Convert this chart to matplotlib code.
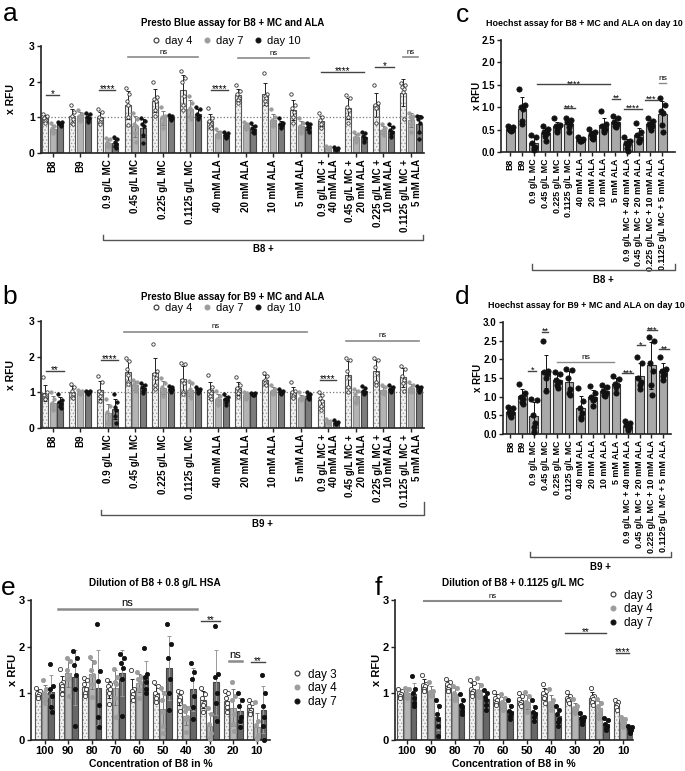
import numpy as np
import matplotlib.pyplot as plt
import matplotlib.transforms as mtransforms
from matplotlib.lines import Line2D

plt.rcParams['font.family'] = ['Liberation Sans', 'DejaVu Sans']
plt.rcParams['hatch.linewidth'] = 0.6

# ---------------- data ----------------
mc_ala_labels = ['B8', 'B9', '0.9 g/L MC', '0.45 g/L MC', '0.225 g/L MC', '0.1125 g/L MC',
                 '40 mM ALA', '20 mM ALA', '10 mM ALA', '5 mM ALA',
                 '0.9 g/L MC +\n40 mM ALA', '0.45 g/L MC +\n20 mM ALA',
                 '0.225 g/L MC +\n10 mM ALA', '0.1125 g/L MC +\n5 mM ALA']
hoechst_labels = [s.replace('\n', ' ') for s in mc_ala_labels]
dilution_labels = ['100', '90', '80', '70', '60', '50', '40', '30', '20', '10']

# panel a: Presto Blue, B8 + MC/ALA (replicates per group)
a_day4 = [[1.1, 1.05, 0.98, 0.93, 0.9, 0.85], [1.35, 1.15, 1.05, 0.95, 0.85, 0.8],
          [1.22, 1.15, 1.0, 0.95, 0.88, 0.8], [1.83, 1.65, 1.45, 1.35, 1.0, 0.78],
          [1.98, 1.58, 1.52, 1.45, 1.2, 1.05], [2.3, 2.1, 2.0, 1.6, 1.35, 1.2],
          [1.25, 0.98, 0.9, 0.82, 0.75, 0.7], [1.9, 1.75, 1.65, 1.55, 1.5, 1.4],
          [2.25, 1.65, 1.6, 1.55, 1.45, 1.38], [1.65, 1.35, 1.25, 1.15, 1.0, 0.85],
          [1.12, 1.0, 0.92, 0.85, 0.8, 0.7], [1.62, 1.55, 1.3, 1.2, 1.0, 0.85],
          [1.92, 1.4, 1.35, 1.3, 1.25, 0.85], [1.95, 1.9, 1.85, 1.8, 1.7, 0.95]]
a_day7 = [[0.85, 0.75, 0.7, 0.65, 0.6, 0.55], [1.2, 1.1, 1.05, 1.0, 0.95, 0.9],
          [0.42, 0.38, 0.3, 0.25, 0.22, 0.18], [1.12, 0.95, 0.8, 0.75, 0.55, 0.3],
          [1.3, 1.05, 1.0, 0.95, 0.85, 0.7], [1.6, 1.4, 1.25, 1.2, 1.05, 0.95],
          [0.68, 0.58, 0.52, 0.5, 0.47, 0.44], [0.88, 0.82, 0.78, 0.75, 0.72, 0.68],
          [1.22, 1.0, 0.92, 0.88, 0.82, 0.75], [0.98, 0.85, 0.75, 0.7, 0.65, 0.55],
          [0.2, 0.17, 0.15, 0.14, 0.13, 0.12], [0.58, 0.52, 0.45, 0.42, 0.38, 0.32],
          [0.82, 0.7, 0.65, 0.6, 0.55, 0.5], [1.12, 1.05, 1.0, 0.95, 0.8, 0.6]]
a_day10 = [[0.88, 0.87, 0.85, 0.82, 0.8, 0.75], [1.12, 1.08, 1.02, 0.98, 0.92, 0.88],
           [0.45, 0.38, 0.3, 0.25, 0.2, 0.15], [0.98, 0.9, 0.8, 0.75, 0.5, 0.28],
           [1.07, 1.03, 1.0, 0.98, 0.96, 0.93], [1.3, 1.22, 1.1, 1.05, 1.0, 0.95],
           [0.6, 0.55, 0.5, 0.48, 0.45, 0.42], [0.85, 0.75, 0.7, 0.65, 0.6, 0.55],
           [0.98, 0.85, 0.8, 0.78, 0.75, 0.7], [0.85, 0.8, 0.75, 0.72, 0.68, 0.6],
           [0.17, 0.14, 0.12, 0.11, 0.1, 0.09], [0.6, 0.55, 0.48, 0.42, 0.38, 0.3],
           [0.82, 0.72, 0.65, 0.58, 0.52, 0.45], [1.05, 1.0, 0.95, 0.85, 0.6, 0.4]]

# panel b: Presto Blue, B9 + MC/ALA
b_day4 = [[1.42, 1.0, 0.92, 0.88, 0.85, 0.8], [1.22, 1.15, 1.05, 0.95, 0.88, 0.85],
          [1.45, 1.28, 1.05, 0.98, 0.9, 0.75], [1.95, 1.88, 1.65, 1.5, 1.3, 1.22],
          [2.35, 1.6, 1.52, 1.4, 1.2, 1.1], [1.82, 1.8, 1.35, 1.25, 1.0, 0.95],
          [1.48, 1.15, 1.05, 0.98, 0.9, 0.8], [1.42, 1.2, 1.12, 1.05, 0.98, 0.88],
          [1.55, 1.45, 1.35, 1.3, 1.25, 1.2], [1.28, 1.05, 1.0, 0.95, 0.9, 0.85],
          [1.0, 0.92, 0.85, 0.75, 0.62, 0.5], [1.95, 1.9, 1.6, 1.4, 1.15, 1.0],
          [1.95, 1.9, 1.7, 1.55, 1.3, 1.2], [1.75, 1.65, 1.45, 1.35, 1.25, 1.05]]
b_day7 = [[1.02, 0.8, 0.7, 0.62, 0.55, 0.5], [1.06, 1.04, 1.02, 1.0, 0.98, 0.95],
          [0.82, 0.62, 0.45, 0.3, 0.2, 0.1], [1.35, 1.3, 1.22, 1.15, 1.1, 1.05],
          [1.4, 1.25, 1.15, 1.05, 1.0, 0.9], [1.32, 1.25, 1.1, 1.0, 0.95, 0.85],
          [1.05, 0.9, 0.82, 0.78, 0.72, 0.65], [1.02, 0.98, 0.92, 0.9, 0.85, 0.8],
          [1.2, 1.1, 1.05, 1.0, 0.98, 0.95], [1.0, 0.88, 0.85, 0.82, 0.8, 0.78],
          [0.25, 0.2, 0.18, 0.16, 0.14, 0.12], [1.1, 1.05, 0.95, 0.85, 0.75, 0.7],
          [1.2, 1.15, 1.05, 1.0, 0.98, 0.95], [1.3, 1.2, 1.12, 1.08, 1.05, 1.0]]
b_day10 = [[0.95, 0.78, 0.72, 0.68, 0.62, 0.55], [1.05, 1.03, 1.01, 1.0, 0.98, 0.96],
           [0.95, 0.72, 0.6, 0.5, 0.35, 0.15], [1.25, 1.2, 1.15, 1.1, 1.05, 0.98],
           [1.18, 1.15, 1.1, 1.08, 1.05, 1.02], [1.15, 1.1, 1.08, 1.05, 1.0, 0.98],
           [0.95, 0.88, 0.82, 0.78, 0.72, 0.65], [0.98, 0.97, 0.95, 0.94, 0.93, 0.92],
           [1.1, 1.05, 1.03, 1.0, 0.98, 0.95], [1.0, 0.95, 0.92, 0.88, 0.85, 0.82],
           [0.22, 0.18, 0.15, 0.13, 0.11, 0.1], [1.18, 1.12, 1.05, 1.02, 0.98, 0.95],
           [1.2, 1.15, 1.1, 1.08, 1.05, 1.02], [1.18, 1.15, 1.12, 1.1, 1.05, 1.0]]

# panels c and d: Hoechst on day 10
c_day10 = [[0.57, 0.55, 0.52, 0.5, 0.48, 0.46], [1.4, 1.05, 1.0, 0.95, 0.7, 0.62],
           [0.37, 0.33, 0.2, 0.12, 0.08, 0.05], [0.58, 0.52, 0.45, 0.42, 0.35, 0.25],
           [0.75, 0.6, 0.58, 0.55, 0.5, 0.45], [0.75, 0.72, 0.68, 0.62, 0.55, 0.45],
           [0.33, 0.3, 0.28, 0.26, 0.25, 0.24], [0.52, 0.45, 0.4, 0.35, 0.32, 0.3],
           [0.92, 0.62, 0.58, 0.52, 0.48, 0.45], [0.8, 0.75, 0.68, 0.62, 0.58, 0.55],
           [0.33, 0.25, 0.2, 0.15, 0.08, 0.03], [0.64, 0.45, 0.38, 0.3, 0.25, 0.22],
           [0.75, 0.7, 0.62, 0.58, 0.55, 0.5], [1.2, 1.05, 0.92, 0.88, 0.6, 0.45]]
d_day10 = [[0.72, 0.7, 0.6, 0.55, 0.5, 0.45], [1.35, 1.1, 1.0, 0.95, 0.85, 0.8],
           [0.95, 0.9, 0.5, 0.3, 0.2, 0.05], [2.5, 1.7, 1.65, 1.6, 1.5, 1.15],
           [1.65, 1.62, 1.45, 1.4, 1.3, 1.22], [1.75, 1.72, 1.5, 1.2, 1.1, 1.05],
           [1.22, 0.88, 0.7, 0.55, 0.45, 0.4], [1.28, 1.1, 1.0, 0.95, 0.9, 0.75],
           [1.32, 1.25, 1.15, 1.1, 1.05, 1.03], [1.55, 1.48, 1.35, 1.3, 1.25, 1.1],
           [0.35, 0.3, 0.25, 0.2, 0.15, 0.1], [2.05, 1.9, 1.5, 1.4, 1.3, 1.2],
           [2.6, 2.5, 1.9, 1.7, 1.3, 1.05], [2.05, 1.75, 1.7, 1.6, 1.55, 1.45]]

# panel e: dilution of B8 + 0.8 g/L HSA
e_day3 = [[1.12, 1.05, 1.0, 0.98, 0.95, 0.9], [1.52, 1.25, 1.2, 1.15, 1.1, 0.98],
          [1.32, 1.28, 1.2, 1.1, 1.0, 0.95], [1.28, 1.2, 1.15, 1.1, 1.0, 0.78],
          [1.5, 1.1, 1.05, 0.98, 0.92, 0.85], [1.25, 1.15, 1.0, 0.95, 0.9, 0.82],
          [1.05, 1.02, 0.95, 0.92, 0.85, 0.62], [1.12, 0.98, 0.9, 0.8, 0.75, 0.6],
          [1.05, 1.0, 0.9, 0.8, 0.7, 0.6], [0.85, 0.8, 0.72, 0.65, 0.6, 0.55]]
e_day4 = [[1.28, 1.1, 1.0, 0.95, 0.9, 0.8], [1.75, 1.7, 1.5, 1.4, 1.3, 0.95],
          [1.77, 1.68, 1.5, 1.4, 1.2, 0.93], [1.53, 1.35, 1.25, 1.2, 0.9, 0.5],
          [1.45, 1.35, 1.3, 1.25, 1.1, 0.9], [1.12, 1.0, 0.85, 0.6, 0.3, 0.15],
          [0.72, 0.68, 0.62, 0.5, 0.45, 0.18], [0.68, 0.55, 0.35, 0.15, 0.05, 0.02],
          [1.25, 0.95, 0.85, 0.55, 0.35, 0.2], [0.82, 0.4, 0.32, 0.1, 0.05, 0.02]]
e_day7 = [[1.62, 1.15, 1.1, 0.95, 0.7, 0.6], [1.9, 1.75, 1.6, 1.4, 1.1, 0.3],
          [2.48, 1.47, 1.27, 0.75, 0.5, 0.28], [1.85, 1.75, 1.65, 1.55, 1.3, 0.52],
          [1.98, 1.42, 1.35, 1.25, 1.1, 1.0], [2.48, 2.05, 1.75, 1.3, 1.0, 0.65],
          [1.65, 1.45, 1.3, 0.95, 0.7, 0.45], [2.45, 1.42, 1.35, 1.0, 0.8, 0.4],
          [1.0, 0.85, 0.72, 0.5, 0.4, 0.28], [1.4, 1.0, 0.72, 0.5, 0.3, 0.0]]

# panel f: dilution of B8 + 0.1125 g/L MC
f_day3 = [[1.1, 1.05, 1.0, 0.98, 0.95, 0.9], [1.4, 1.2, 1.18, 1.15, 1.1, 1.05],
          [1.3, 1.25, 1.2, 1.15, 1.1, 1.05], [1.28, 1.22, 1.1, 1.05, 1.0, 0.95],
          [1.02, 0.95, 0.9, 0.85, 0.8, 0.75], [1.0, 0.95, 0.88, 0.82, 0.78, 0.72],
          [1.2, 1.05, 1.0, 0.95, 0.9, 0.8], [1.02, 0.95, 0.9, 0.88, 0.85, 0.8],
          [1.12, 0.95, 0.92, 0.88, 0.82, 0.75], [0.85, 0.82, 0.78, 0.75, 0.7, 0.65]]
f_day4 = [[1.12, 1.1, 1.0, 0.95, 0.92, 0.9], [1.25, 1.05, 1.02, 1.0, 0.98, 0.95],
          [1.15, 1.12, 1.0, 0.95, 0.9, 0.85], [1.32, 1.18, 1.05, 1.0, 0.95, 0.92],
          [0.98, 0.9, 0.82, 0.78, 0.72, 0.65], [1.02, 0.95, 0.82, 0.75, 0.72, 0.6],
          [1.1, 0.85, 0.8, 0.78, 0.72, 0.65], [0.88, 0.72, 0.68, 0.65, 0.62, 0.58],
          [0.88, 0.8, 0.72, 0.65, 0.55, 0.48], [0.5, 0.45, 0.4, 0.35, 0.32, 0.28]]
f_day7 = [[1.38, 1.1, 1.0, 0.9, 0.8, 0.72], [0.85, 0.72, 0.55, 0.45, 0.3, 0.08],
          [0.98, 0.85, 0.75, 0.7, 0.62, 0.55], [1.08, 1.0, 0.92, 0.85, 0.75, 0.65],
          [0.85, 0.72, 0.62, 0.58, 0.52, 0.45], [0.85, 0.7, 0.6, 0.55, 0.5, 0.4],
          [0.72, 0.65, 0.55, 0.45, 0.38, 0.3], [0.58, 0.5, 0.48, 0.42, 0.4, 0.35],
          [0.48, 0.42, 0.35, 0.3, 0.25, 0.22], [0.3, 0.28, 0.25, 0.22, 0.18, 0.15]]

# significance bars: (x from, x to, y, text)
sig_a = [(-0.23, 0.25, 1.64, '*'), (1.70, 2.28, 1.78, '****'), (2.74, 5.28, 2.68, 'ns'),
         (5.75, 6.35, 1.78, '****'), (6.71, 9.29, 2.65, 'ns'), (9.74, 11.3, 2.28, '****'),
         (11.7, 12.4, 2.42, '*'), (12.7, 13.26, 2.68, 'ns')]
sig_b = [(-0.23, 0.41, 1.61, '**'), (1.74, 2.37, 1.9, '****'), (2.58, 9.23, 2.7, 'ns'),
         (9.69, 10.29, 1.34, '****'), (10.65, 13.3, 2.45, 'ns')]
sig_c = [(2.29, 8.57, 1.51, '****'), (4.57, 5.57, 0.98, '***'), (8.71, 9.43, 1.19, '**'),
         (9.77, 11.29, 0.96, '****'), (11.57, 12.57, 1.16, '***'), (12.77, 13.34, 1.54, 'ns')]
sig_d = [(1.5, 2.2, 1.70, '*'), (2.65, 3.22, 2.74, '**'), (3.93, 8.85, 1.92, 'ns'),
         (9.49, 10.48, 1.63, '***'), (10.77, 11.48, 2.38, '*'), (11.62, 12.48, 2.78, '***'),
         (12.68, 13.47, 2.27, '**')]
sig_e = [(0.55, 6.48, 2.8, 'ns'), (6.64, 7.44, 2.55, '**'), (7.8, 8.36, 1.69, 'ns'),
         (8.75, 9.35, 1.68, '**')]
sig_f = [(0.72, 6.4, 2.98, 'ns'), (6.6, 8.27, 2.3, '**'), (8.72, 9.25, 1.87, '****')]

# ---------------- styles ----------------
LIGHT = dict(face='#f2f2f2', hatch='.....', hatchcol='#a0a0a0', edge='#555555',
             err='#222222', pface='white', pedge='#333333')
MID = dict(face='#b4b4b4', hatch=None, edge='#8c8c8c', err='#777777',
           pface='#9c9c9c', pedge='#9c9c9c')
DARK = dict(face='#7c7c7c', hatch=None, edge='#444444', err='#111111',
            pface='#111111', pedge='#111111')
DARKER = dict(DARK, face='#676767', err='#999999')
HOECHST = dict(face='#a9a9a9', hatch=None, edge='#333333', err='#111111',
               pface='#111111', pedge='#111111')
JIT = np.array([-0.3, 0.3, -0.15, 0.15, 0.0, 0.05])

W, H = 685, 771
fig = plt.figure(figsize=(W / 100, H / 100), dpi=100)


def px_axes(left, top, right, bottom):
    return fig.add_axes([left / W, 1 - bottom / H, (right - left) / W, (bottom - top) / H])


def ftext(x, y, s, **kw):
    fig.text(x / W, 1 - y / H, s, **kw)


def draw_bars(ax, series, styles, offs, width, ms):
    for vals_list, st, off in zip(series, styles, offs):
        for g, pts in enumerate(vals_list):
            pts = np.asarray(pts)
            x = g + off
            m, sd = pts.mean(), pts.std(ddof=1)
            if st['hatch']:
                ax.bar(x, m, width, color=st['face'], edgecolor=st['hatchcol'],
                       hatch=st['hatch'], lw=0, zorder=2)
                ax.bar(x, m, width, fill=False, edgecolor=st['edge'], lw=0.8, zorder=2)
            else:
                ax.bar(x, m, width, color=st['face'], edgecolor=st['edge'], lw=0.8, zorder=2)
            ax.errorbar(x, m, yerr=sd, fmt='none', ecolor=st['err'], elinewidth=0.7,
                        capsize=1.5, capthick=0.7, zorder=3)
            ax.scatter(x + JIT[:len(pts)] * width, pts, s=ms, facecolor=st['pface'],
                       edgecolor=st['pedge'], linewidths=0.6, zorder=4, clip_on=False)


def setup(ax, xlim, yticks, ytl, xlabels, xfs, yfs, ylab_x, rot=90, multi='right'):
    ax.set_xlim(*xlim)
    ax.set_ylim(yticks[0], yticks[-1])
    for sp in ['top', 'right']:
        ax.spines[sp].set_visible(False)
    for sp in ['left', 'bottom']:
        ax.spines[sp].set_linewidth(1.2)
        ax.spines[sp].set_color('#222222')
    ax.set_yticks(yticks, ytl, fontsize=yfs, fontweight='bold')
    ax.set_xticks(range(len(xlabels)), xlabels, fontsize=xfs, fontweight='bold',
                  rotation=rot, multialignment=multi)
    ax.tick_params(axis='both', width=1.0, length=3, pad=1.5, color='#222222')
    ax.set_ylabel('x RFU', fontsize=yfs, fontweight='bold')
    ax.yaxis.set_label_coords(ylab_x, 0.5)


def significance(ax, sigs, fs_star=7, fs_ns=5.5, ns_lw=1.0):
    for x0, x1, y, txt in sigs:
        ns = txt == 'ns'
        ax.plot([x0, x1], [y, y], color='#8a8a8a' if ns else '#444444',
                lw=ns_lw if ns else 1.0, clip_on=False, zorder=5)
        ax.annotate(txt, ((x0 + x1) / 2, y), xytext=(0, 1 if ns else -3),
                    textcoords='offset points', ha='center', va='bottom',
                    fontsize=fs_ns if ns else fs_star, annotation_clip=False)


def bracket(ax, x0, x1, y, dy, text):
    tr = mtransforms.blended_transform_factory(ax.transData, ax.transAxes)
    ax.plot([x0, x0, x1, x1], [y + dy[0], y, y, y + dy[1]], transform=tr,
            color='#555555', lw=1.0, clip_on=False)
    ax.text((x0 + x1) / 2, y - 0.04, text, transform=tr, ha='center', va='top',
            fontsize=7, fontweight='bold')


def day_legend(labels, colors):
    handles = []
    for lab, (fc, ec) in zip(labels, colors):
        handles.append(Line2D([], [], ls='none', marker='o', ms=3.5, mfc=fc, mec=ec,
                              mew=0.8, label=lab))
    return handles


presto_off = [-0.28, 0.0, 0.28]

# ---------------- panel a ----------------
ax_a = px_axes(41, 46, 424, 153)
draw_bars(ax_a, [a_day4, a_day7, a_day10], [LIGHT, MID, DARK], presto_off, 0.22, 6)
ax_a.axhline(1, color='#777777', ls=':', lw=0.9, zorder=3)
setup(ax_a, (-0.42, 13.47), [0, 1, 2, 3], ['0', '1', '2', '3'], mc_ala_labels, 7, 7.5, -0.065)
significance(ax_a, sig_a, ns_lw=1.2)
bracket(ax_a, 1.83, 13.44, -0.81, (0.045, 0.045), 'B8 +')
h = day_legend(['day 4', 'day 7', 'day 10'],
               [('white', '#333333'), ('#9c9c9c', '#9c9c9c'), ('#111111', '#111111')])
fig.legend(handles=h, loc='center', bbox_to_anchor=(226 / W, 1 - 41 / H), ncol=3,
           frameon=False, fontsize=8, handlelength=0.8, handletextpad=0.4, columnspacing=0.9)
ftext(233, 23, 'Presto Blue assay for B8 + MC and ALA', ha='center', va='center',
      fontsize=7, fontweight='bold')

# ---------------- panel b ----------------
ax_b = px_axes(41, 321, 424, 428)
draw_bars(ax_b, [b_day4, b_day7, b_day10], [LIGHT, MID, DARK], presto_off, 0.22, 6)
ax_b.axhline(1, color='#777777', ls=':', lw=0.9, zorder=3)
setup(ax_b, (-0.42, 13.47), [0, 1, 2, 3], ['0', '1', '2', '3'], mc_ala_labels, 7, 7.5, -0.065)
significance(ax_b, sig_b, ns_lw=1.2)
bracket(ax_b, 1.76, 13.47, -0.81, (0.045, 0.12), 'B9 +')
fig.legend(handles=h, loc='center', bbox_to_anchor=(226 / W, 1 - 308 / H), ncol=3,
           frameon=False, fontsize=8, handlelength=0.8, handletextpad=0.4, columnspacing=0.9)
ftext(233, 297, 'Presto Blue assay for B9 + MC and ALA', ha='center', va='center',
      fontsize=7, fontweight='bold')

# ---------------- panel c ----------------
ax_c = px_axes(501, 40, 675, 152)
draw_bars(ax_c, [c_day10], [HOECHST], [0.0], 0.75, 14)
setup(ax_c, (-0.8, 14.1), [0, 0.5, 1.0, 1.5, 2.0, 2.5],
      ['0.0', '0.5', '1.0', '1.5', '2.0', '2.5'], hoechst_labels, 6.4, 7, -0.11)
significance(ax_c, sig_c, fs_star=6.5, fs_ns=6)
bracket(ax_c, 1.88, 14.1, -1.054, (0.05, 0.05), 'B8 +')
ftext(584, 23, 'Hoechst assay for B8 + MC and ALA on day 10', ha='center', va='center',
      fontsize=6.4, fontweight='bold')

# ---------------- panel d ----------------
ax_d = px_axes(503, 322, 671, 434)
draw_bars(ax_d, [d_day10], [HOECHST], [0.0], 0.75, 14)
setup(ax_d, (-0.63, 13.68), [0, 0.5, 1.0, 1.5, 2.0, 2.5, 3.0],
      ['0.0', '0.5', '1.0', '1.5', '2.0', '2.5', '3.0'], hoechst_labels, 6.4, 7, -0.12)
significance(ax_d, sig_d, fs_star=6.5, fs_ns=6)
bracket(ax_d, 1.65, 13.68, -1.10, (0.05, 0.05), 'B9 +')
ftext(586, 306, 'Hoechst assay for B9 + MC and ALA on day 10', ha='center', va='center',
      fontsize=6.4, fontweight='bold')

# ---------------- panel e ----------------
ax_e = px_axes(31, 600, 270, 740)
draw_bars(ax_e, [e_day3, e_day4, e_day7], [LIGHT, MID, DARKER], presto_off, 0.24, 9)
setup(ax_e, (-0.58, 9.56), [0, 1, 2, 3], ['0', '1', '2', '3'], dilution_labels, 8, 8, -0.055,
      rot=0, multi='center')
significance(ax_e, sig_e, fs_star=7, fs_ns=8, ns_lw=1.8)
ax_e.set_xlabel('Concentration of B8 in %', fontsize=7.5, fontweight='bold')
ax_e.xaxis.set_label_coords(0.5, -0.135)
he = day_legend(['day 3', 'day 4', 'day 7'],
                [('white', '#333333'), ('#9c9c9c', '#9c9c9c'), ('#111111', '#111111')])
fig.legend(handles=he, loc='upper left', bbox_to_anchor=(282 / W, 1 - 658 / H),
           frameon=False, fontsize=8.5, handlelength=0.8, handletextpad=0.5, labelspacing=0.15)
ftext(155, 583, 'Dilution of B8 + 0.8 g/L HSA', ha='center', va='center',
      fontsize=7.2, fontweight='bold')

# ---------------- panel f ----------------
ax_f = px_axes(395, 600, 633, 740)
draw_bars(ax_f, [f_day3, f_day4, f_day7], [LIGHT, MID, DARKER], presto_off, 0.24, 9)
setup(ax_f, (-0.49, 9.41), [0, 1, 2, 3], ['0', '1', '2', '3'], dilution_labels, 8, 8, -0.056,
      rot=0, multi='center')
significance(ax_f, sig_f, fs_star=7, fs_ns=5.5, ns_lw=1.5)
ax_f.set_xlabel('Concentration of B8 in %', fontsize=7.5, fontweight='bold')
ax_f.xaxis.set_label_coords(0.5, -0.135)
fig.legend(handles=he, loc='upper left', bbox_to_anchor=(598 / W, 1 - 579 / H),
           frameon=False, fontsize=8.5, handlelength=0.8, handletextpad=0.5, labelspacing=0.15)
ftext(513, 583, 'Dilution of B8 + 0.1125 g/L MC', ha='center', va='center',
      fontsize=7.2, fontweight='bold')

# panel letters
for letter, x, y in [('a', 10, 14), ('b', 10, 297), ('c', 462, 15), ('d', 462, 297),
                     ('e', 8, 588), ('f', 378, 588)]:
    ftext(x, y, letter, ha='center', va='center', fontsize=19)

fig.savefig('out.png', dpi=100)
